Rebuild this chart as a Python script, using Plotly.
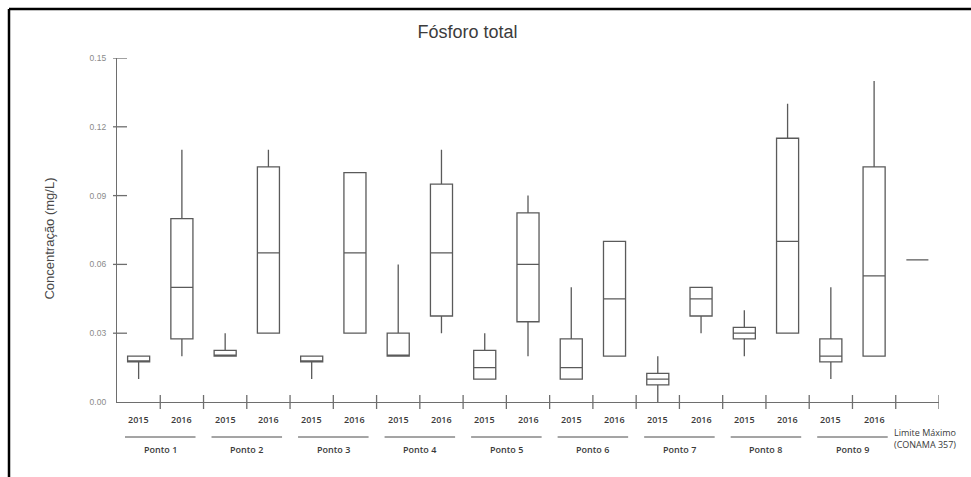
import plotly.graph_objects as go

# Sampling points and years
pontos = ["Ponto 1", "Ponto 2", "Ponto 3", "Ponto 4", "Ponto 5",
          "Ponto 6", "Ponto 7", "Ponto 8", "Ponto 9"]
anos = ["2015", "2016"]

# Box statistics (mg/L), ordered Ponto 1 2015, Ponto 1 2016, Ponto 2 2015, ...
minimo = [0.010, 0.020, 0.020, 0.030, 0.010, 0.030, 0.020, 0.030, 0.010,
          0.020, 0.010, 0.020, 0.000, 0.030, 0.020, 0.030, 0.010, 0.020]
q1 = [0.0175, 0.0275, 0.020, 0.030, 0.0175, 0.030, 0.020, 0.0375, 0.010,
      0.035, 0.010, 0.020, 0.0075, 0.0375, 0.0275, 0.030, 0.0175, 0.020]
mediana = [0.0175, 0.050, 0.020, 0.065, 0.0175, 0.065, 0.020, 0.065, 0.015,
           0.060, 0.015, 0.045, 0.010, 0.045, 0.030, 0.070, 0.020, 0.055]
q3 = [0.020, 0.080, 0.0225, 0.1025, 0.020, 0.100, 0.030, 0.095, 0.0225,
      0.0825, 0.0275, 0.070, 0.0125, 0.050, 0.0325, 0.115, 0.0275, 0.1025]
maximo = [0.020, 0.110, 0.030, 0.110, 0.020, 0.100, 0.060, 0.110, 0.030,
          0.090, 0.050, 0.070, 0.020, 0.050, 0.040, 0.130, 0.050, 0.140]

# CONAMA 357 maximum limit
limite_max = 0.062
limite_label = "Limite Máximo<br>(CONAMA 357)"

y_ticks = [0.00, 0.03, 0.06, 0.09, 0.12, 0.15]

# Layout geometry (pixels)
W, H = 971, 477
ML, MR, MT, MB = 117, 32, 58, 75
PW, PH = W - ML - MR, H - MT - MB

LINE = "#5a5a5a"
AXIS = "#6e6e6e"

n_boxes = len(pontos) * len(anos)
pos = list(range(n_boxes))
lim_pos = n_boxes

fig = go.Figure()

fig.add_trace(go.Box(
    x=pos, q1=q1, median=mediana, q3=q3,
    lowerfence=minimo, upperfence=maximo,
    width=0.51, whiskerwidth=0,
    line=dict(color=LINE, width=1.3),
    fillcolor="rgba(255,255,255,0)",
    boxpoints=False, showlegend=False, hoverinfo="skip",
))

# Limit drawn as a flat box (single value)
fig.add_trace(go.Box(
    x=[lim_pos], q1=[limite_max], median=[limite_max], q3=[limite_max],
    lowerfence=[limite_max], upperfence=[limite_max],
    width=0.51, whiskerwidth=0,
    line=dict(color=LINE, width=1.3),
    fillcolor="rgba(255,255,255,0)",
    boxpoints=False, showlegend=False, hoverinfo="skip",
))

shapes = []
annotations = []

# x-axis tick marks crossing the axis line, at category boundaries
for b in range(n_boxes + 1):
    shapes.append(dict(type="line", xref="x", yref="paper",
                       x0=b + 0.5, x1=b + 0.5, ysizemode="pixel", yanchor=0,
                       y0=-7, y1=7, line=dict(color=AXIS, width=1.3)))

# y-axis tick marks crossing the axis line
for t in y_ticks[1:]:
    shapes.append(dict(type="line", xref="paper", yref="y",
                       y0=t, y1=t, xsizemode="pixel", xanchor=0,
                       x0=-4, x1=10, line=dict(color=AXIS, width=1.3)))

lbl_font = dict(family="Open Sans", size=9, color="#3a3a3a", weight=600)

# year labels, group underlines and point names
for k, p in enumerate(pontos):
    for j, a in enumerate(anos):
        annotations.append(dict(x=2 * k + j, y=0, xref="x", yref="paper",
                                text=a, showarrow=False, yanchor="middle",
                                yshift=-17, font=lbl_font))
    center = 2 * k + 0.5
    shapes.append(dict(type="line", xref="x", yref="paper",
                       x0=center - 0.815, x1=center + 0.815,
                       ysizemode="pixel", yanchor=0, y0=-35, y1=-35,
                       line=dict(color="#4a4a4a", width=1)))
    annotations.append(dict(x=center, y=0, xref="x", yref="paper",
                            text=p, showarrow=False, yanchor="middle",
                            yshift=-47, font=lbl_font))

annotations.append(dict(x=lim_pos - 0.58, y=0, xref="x", yref="paper",
                        text=limite_label, showarrow=False, xanchor="left",
                        yanchor="middle", yshift=-36, align="left",
                        font=dict(family="Open Sans", size=9, color="#3a3a3a")))

# y-axis title
annotations.append(dict(x=0, y=(401.7 - 238 - (H - MB - 401.7)) / PH,
                        xref="paper", yref="paper", xshift=50 - ML,
                        text="Concentração (mg/L)", textangle=-90,
                        showarrow=False, xanchor="center", yanchor="middle",
                        font=dict(family="Liberation Sans", size=13, color="#4a4a4a")))

# frame along the top and left edges of the page
def px_x(px):
    return (px - ML) / PW

def px_y(py):
    return (H - MB - py) / PH

shapes.append(dict(type="line", xref="paper", yref="paper",
                   x0=px_x(9), x1=px_x(W + 2), y0=px_y(9), y1=px_y(9),
                   line=dict(color="black", width=2.5)))
shapes.append(dict(type="line", xref="paper", yref="paper",
                   x0=px_x(9), x1=px_x(9), y0=px_y(9), y1=px_y(H + 2),
                   line=dict(color="black", width=2.5)))

fig.update_layout(
    width=W, height=H,
    margin=dict(l=ML, r=MR, t=MT, b=MB, pad=0),
    paper_bgcolor="white", plot_bgcolor="white",
    title=dict(text="Fósforo total", x=467.5 / W, xanchor="center",
               y=1 - 31.5 / H, yanchor="middle",
               font=dict(family="Liberation Sans", size=18, color="#3c3c3c")),
    xaxis=dict(range=[-0.5, n_boxes + 0.5], showgrid=False, zeroline=False,
               showticklabels=False, ticks="", showline=True,
               linecolor=AXIS, linewidth=1.3, fixedrange=True),
    yaxis=dict(range=[0, 0.15], tickvals=y_ticks, tickformat=".2f",
               showgrid=False, zeroline=False, ticks="", showline=True,
               linecolor=AXIS, linewidth=1.3, ticklabelstandoff=8,
               tickfont=dict(family="Liberation Sans", size=8.5, color="#8a8a8a"),
               fixedrange=True),
    shapes=shapes,
    annotations=annotations,
)

fig.write_html("out.html")
